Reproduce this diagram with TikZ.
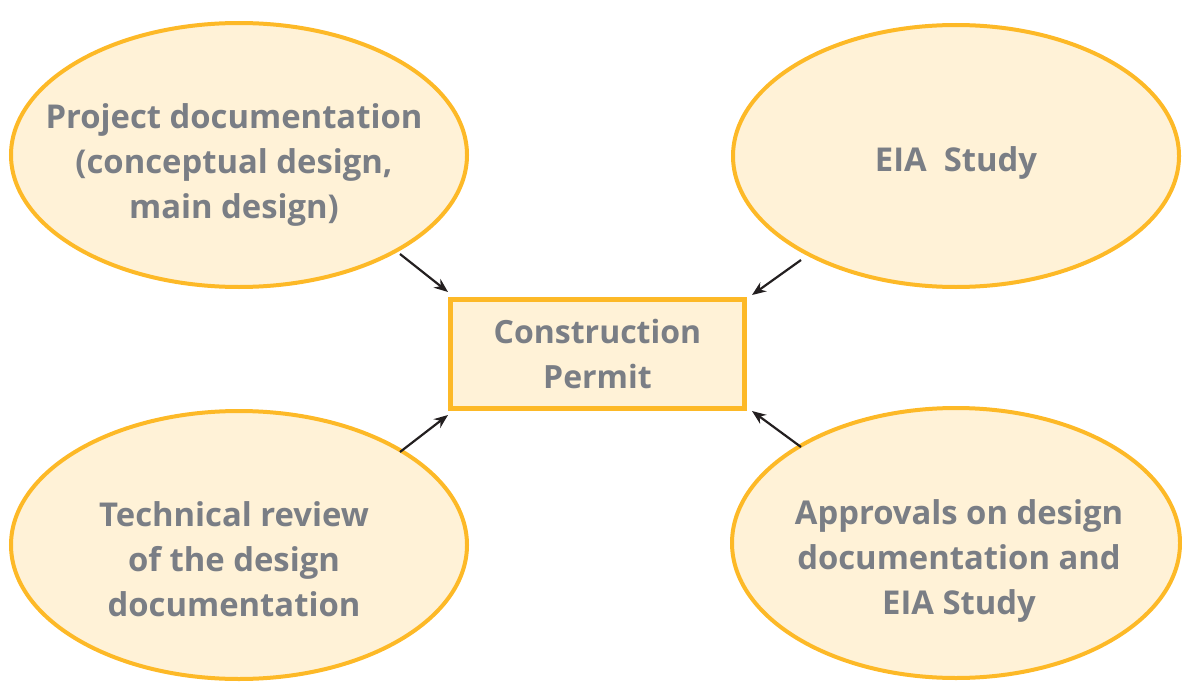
\documentclass[tikz,border=0pt]{standalone}
\usepackage{fontspec}
\setmainfont{Open Sans}
\usetikzlibrary{shapes.geometric,arrows.meta}
\definecolor{ygold}{HTML}{FDB927}
\definecolor{yfill}{HTML}{FFF2D7}
\definecolor{tgray}{HTML}{7A7E85}
\definecolor{adark}{HTML}{231F20}
\begin{document}
\begin{tikzpicture}[x=1pt,y=-1pt,
  bubble/.style={ellipse, draw=ygold, fill=yfill, line width=4pt, inner sep=0pt},
  label/.style={text=tgray, font=\fontsize{32.8}{45}\selectfont\bfseries, align=center},
  permit/.style={rectangle, draw=ygold, fill=yfill, line width=5pt, minimum width=294pt, minimum height=109pt, inner sep=0pt},
  link/.style={-{Stealth[length=14pt,width=11pt]}, adark, line width=2.2pt}]
\useasboundingbox (0,0) rectangle (1182,682);
\node[bubble, minimum width=456pt, minimum height=264pt] (tl) at (239,155) {};
\node[bubble, minimum width=446pt, minimum height=262pt] (tr) at (956,156) {};
\node[bubble, minimum width=456pt, minimum height=268pt] (bl) at (239,545) {};
\node[bubble, minimum width=448pt, minimum height=270pt] (br) at (956,543) {};
\node[permit] (cp) at (597.5,354) {};
\node[label] at ([shift={(-5,10)}]tl.center) {Project documentation\\(conceptual design,\\main design)};
\node[label] at ([shift={(0,7)}]tr.center) {EIA\ \ Study};
\node[label] at ([shift={(-5,14)}]bl.center) {Technical review\\of the design\\documentation};
\node[label] at ([shift={(3,18)}]br.center) {Approvals on design\\documentation and\\EIA Study};
\node[label, font=\fontsize{32}{45}\selectfont\bfseries] at (cp.center) {Construction\\Permit};
\coordinate (s1) at (400,254);
\coordinate (e1) at (448,292);
\coordinate (s2) at (801,260);
\coordinate (e2) at (752,295);
\coordinate (s3) at (400,452);
\coordinate (e3) at (448,415);
\coordinate (s4) at (801,447);
\coordinate (e4) at (752,411);
\draw[link] (s1) -- (e1);
\draw[link] (s2) -- (e2);
\draw[link] (s3) -- (e3);
\draw[link] (s4) -- (e4);
\end{tikzpicture}
\end{document}
